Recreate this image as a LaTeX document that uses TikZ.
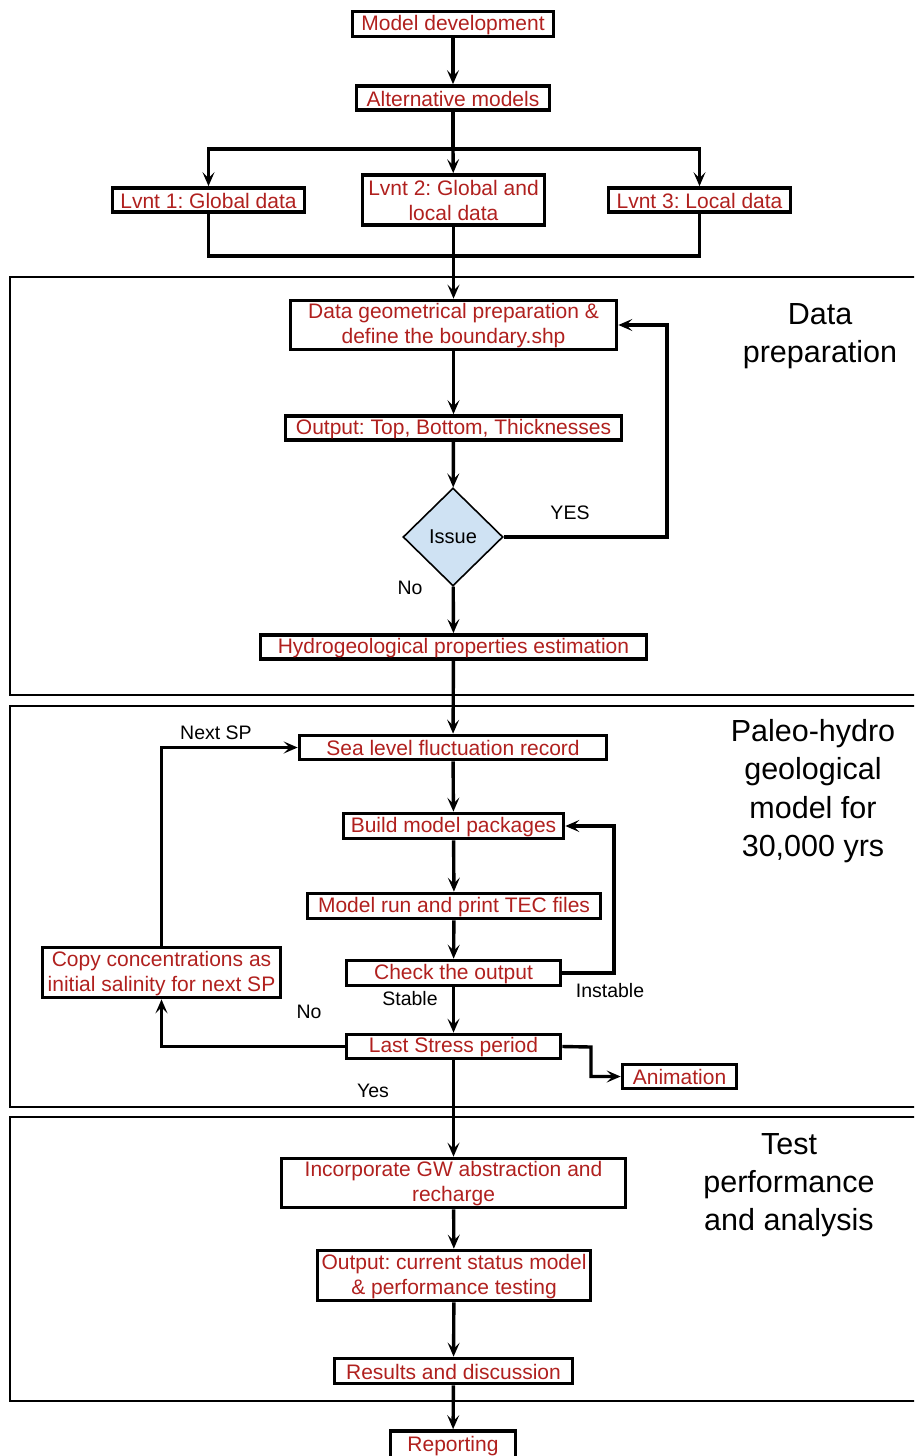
\documentclass[tikz,border=0pt]{standalone}
\usepackage{fontspec}
\setmainfont{Liberation Sans}
\usetikzlibrary{arrows.meta,shapes.geometric}
\definecolor{boxred}{RGB}{176,32,30}
\definecolor{issueblue}{RGB}{207,226,243}
\frenchspacing
\newcommand{\bst}{\rule[-1pt]{0pt}{18pt}}
\tikzset{
  box/.style={draw, line width=3.7pt, text=boxred, inner sep=0pt, align=center,
    font=\fontsize{21}{25}\selectfont},
  arr/.style={line width=3.4pt, -{Stealth[length=14pt,width=12pt,inset=6pt]}},
  conn/.style={line width=3.4pt},
  lbl/.style={font=\fontsize{19.5}{23}\selectfont, inner sep=0pt},
  ttl/.style={font=\fontsize{30.5}{38.3}\selectfont, align=center, inner sep=0pt},
  sect/.style={draw, line width=2.2pt},
}
\begin{document}
\begin{tikzpicture}[x=1pt,y=-1pt]
\useasboundingbox (0,0) rectangle (914,1456);
\clip (0,0) rectangle (914,1456);
% sections
\draw[sect] (10,277) rectangle (935,695);
\draw[sect] (10,706) rectangle (935,1107);
\draw[sect] (10,1117) rectangle (935,1401);
% titles
\node[ttl] (t1) at (820,336) {Data\\preparation};
\node[ttl] (t2) at (813,791) {Paleo-hydro\\geological\\model for\\30,000 yrs};
\node[ttl] (t3) at (789,1185) {Test\\performance\\and analysis};
% boxes
\node[box, minimum width=201pt, minimum height=25pt] (md) at (453,24) {\bst Model development};
\node[box, minimum width=193pt, minimum height=24pt] (am) at (453,98) {\bst Alternative models};
\node[box, minimum width=192pt, minimum height=24pt] (l1) at (208.5,200) {\bst Lvnt 1: Global data};
\node[box, minimum width=182pt, minimum height=50pt] (l2) at (453.5,200) {\bst Lvnt 2: Global and\\\bst local data};
\node[box, minimum width=182pt, minimum height=24pt] (l3) at (699.5,200) {\bst Lvnt 3: Local data};
\node[box, minimum width=326pt, minimum height=49pt] (dg) at (453.5,325) {\bst Data geometrical preparation \&\\\bst define the boundary.shp};
\node[box, minimum width=336pt, minimum height=24pt] (ot) at (453.5,428) {\bst Output: Top, Bottom, Thicknesses};
\node[diamond, draw, line width=1.6pt, fill=issueblue, minimum width=100pt, minimum height=98pt, inner sep=0pt,
  font=\fontsize{20}{23}\selectfont] (iss) at (453,537) {Issue};
\node[box, minimum width=386pt, minimum height=24pt] (hp) at (453.5,647) {\bst Hydrogeological properties estimation};
\node[box, minimum width=307pt, minimum height=24pt] (sl) at (453,747.5) {\bst Sea level fluctuation record};
\node[box, minimum width=220pt, minimum height=25pt] (bm) at (453.5,826) {\bst Build model packages};
\node[box, minimum width=293pt, minimum height=25pt] (mr) at (454,906) {\bst Model run and print TEC files};
\node[box, minimum width=214pt, minimum height=25pt] (co) at (453.5,973) {\bst Check the output};
\node[box, minimum width=214pt, minimum height=24pt] (ls) at (453.5,1046.5) {\bst Last Stress period};
\node[box, minimum width=238pt, minimum height=50pt] (cp) at (161.5,972.5) {\bst Copy concentrations as\\\bst initial salinity for next SP};
\node[box, minimum width=114pt, minimum height=24pt] (an) at (679.5,1076.5) {\bst Animation};
\node[box, minimum width=344pt, minimum height=49pt] (ig) at (453.5,1183) {\bst Incorporate GW abstraction and\\\bst recharge};
\node[box, minimum width=273pt, minimum height=50pt] (oc) at (454,1275.5) {\bst Output: current status model\\\bst\& performance testing};
\node[box, minimum width=238pt, minimum height=25pt] (rd) at (453.5,1371) {\bst Results and discussion};
\node[box, minimum width=125pt, minimum height=28pt] (rp) at (453,1445) {\bst Reporting};
% labels
\node[lbl] (yes1) at (570,513) {YES};
\node[lbl] (no1) at (410,588) {No};
\node[lbl] (nsp) at (216,733) {Next SP};
\node[lbl] (ins) at (610,991) {Instable};
\node[lbl] (stb) at (410,999) {Stable};
\node[lbl] (no2) at (309,1012) {No};
\node[lbl] (yes2) at (373,1091) {Yes};
% coordinates
\coordinate (br) at (453,149);
\coordinate (jn) at (453,256);
\coordinate (yc) at (667,537);
\coordinate (ic) at (614,973);
\coordinate (ac) at (591,1047);
% connectors
\draw[arr] (md) -- (am);
\draw[conn] (am) -- (br);
\draw[arr] (br) -- (l2);
\draw[arr] (br) -| (l1.north);
\draw[arr] (br) -| (l3.north);
\draw[conn] (l1.south) |- (jn);
\draw[conn] (l3.south) |- (jn);
\draw[arr] (l2) -- (dg);
\draw[arr] (dg) -- (ot);
\draw[arr] (ot) -- (iss);
\draw[arr] (iss.east) -- (yc) |- (dg.east);
\draw[arr] (iss) -- (hp);
\draw[arr] (hp) -- (sl);
\draw[arr] (sl) -- (bm);
\draw[arr] (bm) -- (mr);
\draw[arr] (mr) -- (co);
\draw[arr] (co) -- (ls);
\draw[arr] (co.east) -- (ic) |- (bm.east);
\draw[arr] (ls.west) -| (cp.south);
\draw[arr] (cp.north) |- (sl.west);
\draw[arr] (ls.east) -- (ac) |- (an.west);
\draw[arr] (ls) -- (ig);
\draw[arr] (ig) -- (oc);
\draw[arr] (oc) -- (rd);
\draw[arr] (rd) -- (rp);
\end{tikzpicture}
\end{document}
